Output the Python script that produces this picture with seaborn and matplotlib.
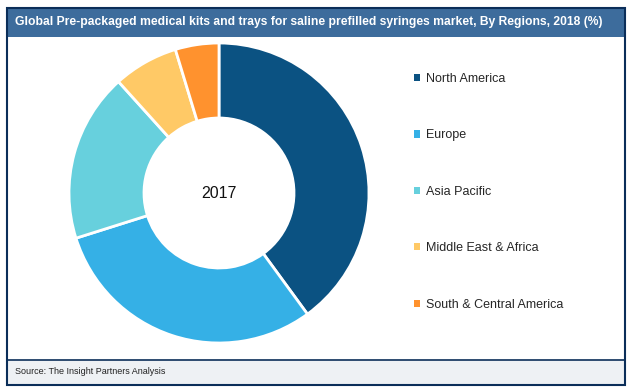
import matplotlib
matplotlib.use("Agg")
import matplotlib.pyplot as plt
from matplotlib.patches import Rectangle
import seaborn as sns

# --- DATA ---
regions = ['North America', 'Europe', 'Asia Pacific', 'Middle East & Africa', 'South & Central America']
shares = [40.0, 30.2, 18.2, 7.0, 4.7]
colors = ['#0B5282', '#35B0E6', '#67D0DD', '#FFC966', '#FF922E']
center_label = '2017'
title = 'Global Pre-packaged medical kits and trays for saline prefilled syringes market, By Regions, 2018 (%)'
source = 'Source: The Insight Partners Analysis'

sns.set_theme(style='white')
plt.rcParams['font.family'] = ['Liberation Sans', 'DejaVu Sans']

W, H = 636, 392
fig = plt.figure(figsize=(W / 100, H / 100), dpi=100)

def fx(px):
    return px / W

def fy(py):
    return 1 - py / H

# frame, title bar and footer
navy = '#0B2E59'
fig.add_artist(Rectangle((fx(7), fy(37)), fx(618), 29 / H, transform=fig.transFigure,
                         facecolor='#3D6C9C', edgecolor='none'))
fig.add_artist(Rectangle((fx(7), fy(385)), fx(618), 25 / H, transform=fig.transFigure,
                         facecolor='#EEF1F4', edgecolor='none'))
fig.add_artist(Rectangle((fx(7), fy(385)), fx(618), 377 / H, transform=fig.transFigure,
                         facecolor='none', edgecolor=navy, linewidth=1.5))
fig.add_artist(plt.Line2D([fx(7), fx(625)], [fy(360), fy(360)], transform=fig.transFigure,
                          color=navy, linewidth=1.2))

fig.text(fx(15), fy(22.5), title, color='white', fontsize=8.75, fontweight='bold',
         va='center', ha='left')
fig.text(fx(15), fy(372), source, color='#222222', fontsize=6.5, va='center', ha='left')

# --- DONUT ---
cx, cy, r = 219, 193, 150
ax = fig.add_axes([fx(cx - r), fy(cy + r), 2 * r / W, 2 * r / H])
wedges, _ = ax.pie(shares, colors=colors, startangle=90, counterclock=False, radius=1,
                   wedgeprops=dict(width=0.5, edgecolor='white', linewidth=2))
ax.set_xlim(-1, 1)
ax.set_ylim(-1, 1)
ax.set_axis_off()
ax.text(0, 0, center_label, ha='center', va='center', fontsize=11.5, color='#111111')

# --- LEGEND ---
fig.legend(wedges, regions, loc='upper left', bbox_to_anchor=(fx(414), fy(73)),
           frameon=False, fontsize=9, labelspacing=3.55, handlelength=0.5,
           handleheight=0.5, handletextpad=0.45, borderaxespad=0, borderpad=0)
for h in fig.legends[0].legend_handles:
    h.set_edgecolor('none')

fig.savefig('out.png', dpi=100)
